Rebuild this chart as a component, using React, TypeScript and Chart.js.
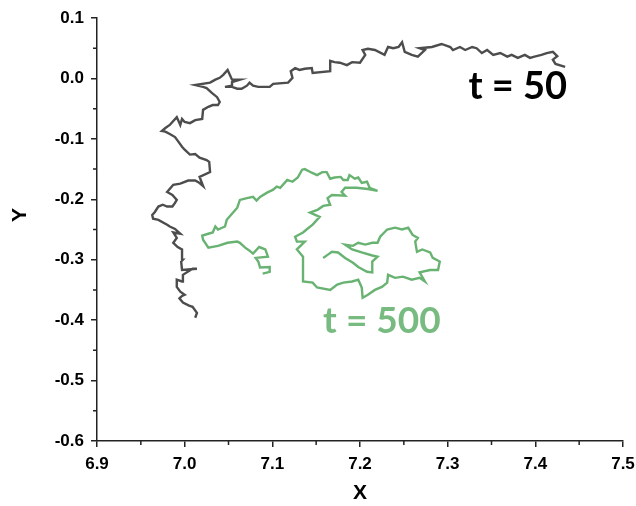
import React, { useEffect, useRef } from "react";
import { Chart, registerables } from "chart.js";

Chart.register(...registerables);

// t = 50 trajectory (gray)
const t50X = [7.012,7.014,7.009,7.005,6.998,6.994,6.997,7.000,6.995,6.991,6.991,6.997,6.998,7.009,7.014,6.997,6.996,6.998,6.997,6.992,6.987,6.991,6.987,6.995,6.989,6.983,6.980,6.970,6.964,6.963,6.966,6.970,6.975,6.980,6.986,6.989,6.991,6.986,6.980,6.987,6.995,7.004,7.012,7.017,7.021,7.017,7.029,7.028,7.025,7.017,7.012,7.006,7.000,6.997,6.992,6.989,6.983,6.978,6.974,6.978,6.983,6.986,6.991,6.995,6.997,7.000,7.006,7.012,7.020,7.021,7.027,7.032,7.038,7.040,7.037,7.031,7.025,7.021,7.012,7.029,7.035,7.040,7.044,7.049,7.054,7.063,7.054,7.054,7.046,7.054,7.060,7.065,7.071,7.074,7.078,7.084,7.097,7.101,7.118,7.123,7.121,7.126,7.131,7.137,7.145,7.146,7.166,7.166,7.171,7.177,7.185,7.191,7.200,7.206,7.203,7.209,7.217,7.228,7.232,7.238,7.244,7.248,7.251,7.259,7.266,7.274,7.268,7.282,7.293,7.303,7.306,7.314,7.320,7.328,7.333,7.339,7.345,7.352,7.360,7.368,7.373,7.380,7.388,7.394,7.399,7.407,7.413,7.420,7.425,7.420,7.423,7.434];
const t50Y = [-0.396,-0.388,-0.378,-0.376,-0.371,-0.364,-0.360,-0.358,-0.353,-0.345,-0.333,-0.336,-0.325,-0.315,-0.315,-0.317,-0.303,-0.300,-0.283,-0.279,-0.272,-0.264,-0.255,-0.257,-0.249,-0.245,-0.242,-0.234,-0.232,-0.226,-0.221,-0.212,-0.209,-0.212,-0.212,-0.206,-0.201,-0.193,-0.188,-0.176,-0.174,-0.169,-0.169,-0.173,-0.178,-0.163,-0.155,-0.138,-0.135,-0.131,-0.125,-0.126,-0.118,-0.113,-0.103,-0.097,-0.092,-0.088,-0.087,-0.082,-0.077,-0.072,-0.064,-0.077,-0.067,-0.072,-0.074,-0.069,-0.067,-0.052,-0.047,-0.044,-0.044,-0.039,-0.031,-0.024,-0.016,-0.014,-0.011,-0.007,-0.002,0.001,0.006,0.014,-0.002,-0.002,-0.006,-0.012,-0.014,-0.014,-0.017,-0.017,-0.012,-0.007,-0.012,-0.014,-0.014,-0.009,-0.007,0.001,0.012,0.017,0.014,0.016,0.017,0.009,0.012,0.029,0.027,0.026,0.022,0.027,0.026,0.039,0.047,0.049,0.047,0.039,0.052,0.050,0.052,0.060,0.044,0.039,0.036,0.047,0.050,0.052,0.057,0.052,0.047,0.052,0.047,0.052,0.050,0.042,0.047,0.039,0.042,0.036,0.039,0.034,0.039,0.034,0.036,0.039,0.042,0.044,0.037,0.031,0.024,0.019];

// t = 500 trajectory (green)
const t500X = [7.089,7.097,7.097,7.086,7.084,7.081,7.095,7.092,7.085,7.078,7.074,7.069,7.063,7.060,7.049,7.038,7.027,7.021,7.020,7.027,7.032,7.035,7.038,7.046,7.048,7.054,7.060,7.063,7.071,7.078,7.082,7.086,7.094,7.101,7.105,7.109,7.117,7.123,7.129,7.134,7.137,7.145,7.151,7.157,7.162,7.166,7.171,7.178,7.181,7.186,7.188,7.194,7.198,7.202,7.208,7.211,7.220,7.209,7.196,7.183,7.179,7.183,7.168,7.163,7.166,7.158,7.152,7.143,7.154,7.146,7.139,7.135,7.126,7.128,7.137,7.128,7.135,7.135,7.135,7.146,7.151,7.166,7.174,7.181,7.191,7.198,7.202,7.203,7.209,7.217,7.225,7.231,7.232,7.240,7.249,7.259,7.268,7.274,7.268,7.280,7.289,7.291,7.283,7.280,7.271,7.265,7.263,7.266,7.260,7.255,7.248,7.240,7.231,7.223,7.220,7.214,7.206,7.198,7.192,7.183,7.191,7.202,7.214,7.220,7.214,7.214,7.208,7.198,7.192,7.183,7.175,7.168,7.163,7.158];
const t500Y = [-0.323,-0.320,-0.312,-0.313,-0.303,-0.297,-0.295,-0.283,-0.279,-0.290,-0.285,-0.280,-0.272,-0.270,-0.272,-0.277,-0.280,-0.267,-0.260,-0.257,-0.255,-0.245,-0.250,-0.245,-0.234,-0.224,-0.214,-0.201,-0.198,-0.196,-0.202,-0.196,-0.189,-0.184,-0.179,-0.181,-0.168,-0.171,-0.164,-0.151,-0.150,-0.156,-0.160,-0.155,-0.155,-0.166,-0.164,-0.163,-0.168,-0.168,-0.160,-0.166,-0.164,-0.173,-0.171,-0.181,-0.186,-0.183,-0.181,-0.181,-0.188,-0.194,-0.193,-0.198,-0.209,-0.211,-0.217,-0.222,-0.229,-0.242,-0.250,-0.255,-0.262,-0.270,-0.270,-0.283,-0.295,-0.317,-0.336,-0.338,-0.346,-0.350,-0.341,-0.338,-0.336,-0.333,-0.346,-0.363,-0.358,-0.350,-0.345,-0.338,-0.325,-0.330,-0.328,-0.333,-0.330,-0.336,-0.321,-0.317,-0.317,-0.303,-0.297,-0.288,-0.283,-0.287,-0.270,-0.264,-0.259,-0.247,-0.250,-0.247,-0.250,-0.262,-0.272,-0.272,-0.275,-0.272,-0.277,-0.275,-0.283,-0.288,-0.293,-0.295,-0.303,-0.321,-0.320,-0.312,-0.305,-0.297,-0.288,-0.287,-0.292,-0.297];

const xMinorTicks = [6.95, 7.05, 7.15, 7.25, 7.35, 7.45];
const yMinorTicks = [0.05, -0.05, -0.15, -0.25, -0.35, -0.45, -0.55];

const labelTexts = ["t = 50", "t = 500"];
const labelX = [7.380, 7.225];
const labelY = [-0.014, -0.401];

const yTitleText = "Y";
const yTitleAt = -0.226;

const GRAY = "#4d4d4d";
const GREEN = "rgb(104,178,114)";
const GREEN_TEXT = "rgb(120,187,128)";
const AXIS = "#222222";
const FONT = "'Liberation Sans', Arial, sans-serif";

const toPoints = (xs: number[], ys: number[]) => xs.map((x, i) => ({ x, y: ys[i] }));

export default function App() {
  const ref = useRef<HTMLCanvasElement | null>(null);

  useEffect(() => {
    if (!ref.current) return;

    const extras = {
      id: "extras",
      afterDraw(chart: any) {
        const ctx = chart.ctx;
        const xs = chart.scales.x;
        const ys = chart.scales.y;
        const area = chart.chartArea;
        ctx.save();
        ctx.strokeStyle = AXIS;
        ctx.lineWidth = 1.5;
        ctx.beginPath();
        xMinorTicks.forEach((v) => {
          const p = xs.getPixelForValue(v);
          ctx.moveTo(p, area.bottom);
          ctx.lineTo(p, area.bottom + 4);
        });
        yMinorTicks.forEach((v) => {
          const p = ys.getPixelForValue(v);
          ctx.moveTo(area.left, p);
          ctx.lineTo(area.left - 4, p);
        });
        ctx.stroke();

        // Y axis title
        ctx.save();
        ctx.translate(ys.left + 20, ys.getPixelForValue(yTitleAt));
        ctx.rotate(-Math.PI / 2);
        ctx.font = `bold 21px ${FONT}`;
        ctx.fillStyle = "#000";
        ctx.textAlign = "center";
        ctx.textBaseline = "middle";
        ctx.fillText(yTitleText, 0, 0);
        ctx.restore();

        ctx.textAlign = "center";
        ctx.textBaseline = "middle";
        labelTexts.forEach((t, i) => {
          ctx.font = i === 0 ? "bold 38px Lato, 'Open Sans', sans-serif" : "bold 37px Lato, 'Open Sans', sans-serif";
          ctx.fillStyle = i === 0 ? "#000000" : GREEN_TEXT;
          ctx.fillText(t, xs.getPixelForValue(labelX[i]), ys.getPixelForValue(labelY[i]));
        });
        ctx.restore();
      },
    };

    const chart = new Chart(ref.current, {
      type: "scatter",
      data: {
        datasets: [
          {
            label: "t = 50",
            data: toPoints(t50X, t50Y),
            showLine: true,
            borderColor: GRAY,
            borderWidth: 2.4,
            pointRadius: 0,
            tension: 0,
          },
          {
            label: "t = 500",
            data: toPoints(t500X, t500Y),
            showLine: true,
            borderColor: GREEN,
            borderWidth: 2.4,
            pointRadius: 0,
            tension: 0,
          },
        ],
      },
      options: {
        responsive: false,
        animation: false,
        layout: { padding: { top: 18, right: 13, left: 0, bottom: 0 } },
        plugins: {
          legend: { display: false },
          tooltip: { enabled: false },
        },
        scales: {
          x: {
            type: "linear",
            min: 6.9,
            max: 7.5,
            ticks: {
              stepSize: 0.1,
              color: "#000",
              padding: 7,
              font: { family: FONT, size: 17, weight: "bold" },
              callback: (v: any) => Number(v).toFixed(1),
            },
            grid: { drawOnChartArea: false, drawTicks: true, tickLength: 6, color: AXIS, lineWidth: 1.5 },
            border: { display: true, color: AXIS, width: 1.5 },
            title: {
              display: true,
              text: "X",
              color: "#000",
              padding: { top: 0, bottom: 0 },
              font: { family: FONT, size: 21, weight: "bold" },
            },
            afterFit: (s: any) => {
              s.height = 65;
              s.paddingLeft = 0;
              s.paddingRight = 0;
            },
          },
          y: {
            type: "linear",
            min: -0.6,
            max: 0.1,
            ticks: {
              stepSize: 0.1,
              color: "#000",
              padding: 7,
              font: { family: FONT, size: 17, weight: "bold" },
              callback: (v: any) => Number(v).toFixed(1),
            },
            grid: { drawOnChartArea: false, drawTicks: true, tickLength: 6, color: AXIS, lineWidth: 1.5 },
            border: { display: true, color: AXIS, width: 1.5 },
            title: { display: false },
            afterFit: (s: any) => {
              s.width = 97;
              s.paddingTop = 0;
              s.paddingBottom = 0;
            },
          },
        },
      },
      plugins: [extras],
    } as any);

    return () => chart.destroy();
  }, []);

  return (
    <div style={{ position: "fixed", left: 0, top: 0, width: 636, height: 506, background: "#fff" }}>
      <canvas ref={ref} width={636} height={506} style={{ display: "block" }} />
    </div>
  );
}
